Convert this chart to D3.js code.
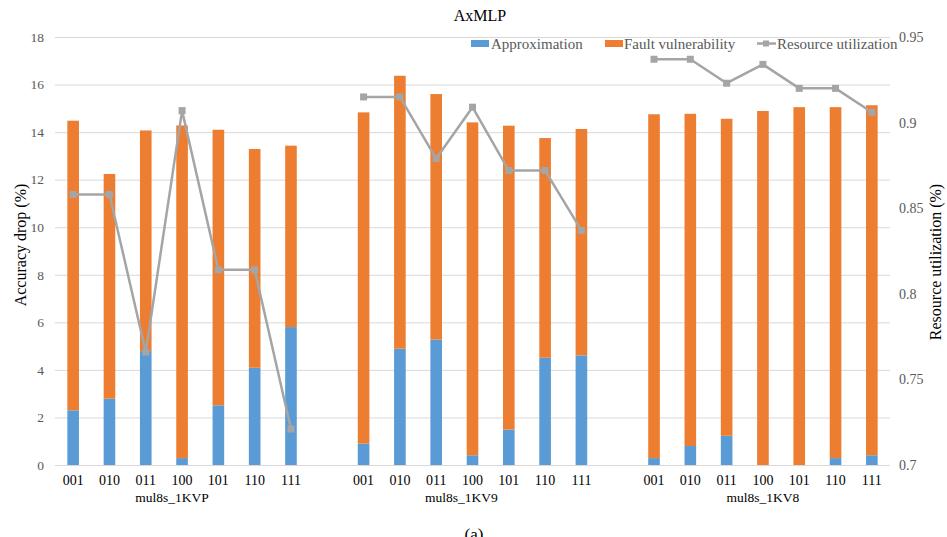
<!DOCTYPE html>
<html><head><meta charset="utf-8">
<script src="https://cdn.jsdelivr.net/npm/d3@7"></script>
<style>body{margin:0;background:#fff}svg{display:block}</style>
</head><body><svg id="c" width="947" height="537"></svg>
<script>
const categories = ["001","010","011","100","101","110","111"];
const groups = ["mul8s_1KVP","mul8s_1KV9","mul8s_1KV8"];
const approximation = [
  [2.3, 2.79, 4.79, 0.29, 2.51, 4.09, 5.8],
  [0.9, 4.89, 5.28, 0.41, 1.49, 4.51, 4.61],
  [0.29, 0.8, 1.23, 0, 0, 0.29, 0.41]
];
const faultVulnerability = [
  [12.18, 9.45, 9.28, 13.99, 11.59, 9.2, 7.63],
  [13.93, 11.48, 10.32, 14.0, 12.78, 9.24, 9.52],
  [14.46, 13.97, 13.33, 14.89, 15.05, 14.76, 14.72]
];
const resourceUtilization = [
  [0.858, 0.858, 0.766, 0.907, 0.814, 0.814, 0.721],
  [0.915, 0.915, 0.879, 0.909, 0.872, 0.872, 0.837],
  [0.937, 0.937, 0.923, 0.934, 0.920, 0.920, 0.906]
];
const leftTicks = [0,2,4,6,8,10,12,14,16,18];
const rightTicks = [0.7,0.75,0.8,0.85,0.9,0.95];
const seriesNames = ["Approximation","Fault vulnerability","Resource utilization"];
const colors = {approx:"#5B9BD5", fault:"#ED7D31", line:"#A5A5A5"};
const FONT = "'Liberation Serif','Times New Roman',serif";

const slots = [];
groups.forEach((g,gi)=>{
  categories.forEach((c,ci)=>slots.push({key:g+"|"+c, g:gi, c:ci}));
  if(gi<groups.length-1) slots.push({key:"gap"+gi, g:-1});
});
const rows = slots.filter(s=>s.g>=0).map(s=>({key:s.key,g:s.g,c:s.c,cat:categories[s.c],
  approx:approximation[s.g][s.c], fault:faultVulnerability[s.g][s.c], res:resourceUtilization[s.g][s.c]}));

const svg = d3.select("#c").attr("font-family",FONT);
const L=55, R=890, T=37, B=465;
const x = d3.scaleBand().domain(slots.map(s=>s.key)).range([L,R]).paddingInner(0.68).paddingOuter(0.34);
const y = d3.scaleLinear().domain([0,18]).range([B,T]);
const y2 = d3.scaleLinear().domain([0.7,0.95]).range([B,T]);

svg.append("g").selectAll("line").data(leftTicks).join("line")
  .attr("x1",L).attr("x2",R).attr("y1",d=>y(d)+0.5).attr("y2",d=>y(d)+0.5)
  .attr("stroke","#D9D9D9").attr("stroke-width",1);

const ga = svg.append("g").attr("transform",`translate(${L-11},0)`)
  .call(d3.axisLeft(y).tickValues(leftTicks).tickSize(0).tickPadding(0).tickFormat(d3.format("d")));
ga.select(".domain").remove();
ga.selectAll("text").attr("font-size",13.5).attr("fill","#595959");

const gb = svg.append("g").attr("transform",`translate(${R+9},0)`)
  .call(d3.axisRight(y2).tickValues(rightTicks).tickSize(0).tickPadding(0).tickFormat(d=>String(+d.toFixed(2))));
gb.select(".domain").remove();
gb.selectAll("text").attr("font-size",14).attr("fill","#595959");

const stack = d3.stack().keys(["approx","fault"])(rows);
const bars = svg.append("g");
stack.forEach(layer=>{
  bars.append("g").attr("fill", layer.key==="approx"?colors.approx:colors.fault)
    .selectAll("rect").data(layer).join("rect")
    .attr("x",d=>x(d.data.key)).attr("width",x.bandwidth())
    .attr("y",d=>y(d[1])).attr("height",d=>y(d[0])-y(d[1]));
});

const line = d3.line().x(d=>x(d.key)+x.bandwidth()/2).y(d=>y2(d.res));
groups.forEach((g,gi)=>{
  const gd = rows.filter(r=>r.g===gi);
  svg.append("path").datum(gd).attr("d",line).attr("fill","none")
    .attr("stroke",colors.line).attr("stroke-width",2.5).attr("stroke-linejoin","round");
  svg.append("g").selectAll("rect").data(gd).join("rect")
    .attr("x",d=>x(d.key)+x.bandwidth()/2-3.5).attr("y",d=>y2(d.res)-3.5)
    .attr("width",7).attr("height",7).attr("fill",colors.line);
});

svg.append("g").selectAll("text").data(rows).join("text")
  .attr("x",d=>x(d.key)+x.bandwidth()/2).attr("y",485).attr("text-anchor","middle")
  .attr("font-size",14).attr("fill","#000").text(d=>d.cat);
const groupLabelShift = [-10,-11,0];
svg.append("g").selectAll("text").data(groups).join("text")
  .attr("x",(d,i)=>{const k=rows.filter(r=>r.g===i);return (x(k[0].key)+x(k[k.length-1].key)+x.bandwidth())/2+groupLabelShift[i];})
  .attr("y",502).attr("text-anchor","middle").attr("font-size",13.5).attr("fill","#000").text(d=>d);

svg.append("text").attr("x",480).attr("y",21).attr("text-anchor","middle").attr("font-size",16).attr("fill","#000").text("AxMLP");
svg.append("text").attr("transform","translate(26,245) rotate(-90)").attr("text-anchor","middle")
  .attr("font-size",16).attr("fill","#000").text("Accuracy drop (%)");
svg.append("text").attr("transform","translate(941,262) rotate(-90)").attr("text-anchor","middle")
  .attr("font-size",16).attr("fill","#000").text("Resource utilization (%)");
svg.append("text").attr("x",474).attr("y",540).attr("text-anchor","middle").attr("font-size",17).attr("fill","#000").text("(a)");

const lg = svg.append("g");
lg.append("rect").attr("x",471).attr("y",40).attr("width",18).attr("height",7).attr("fill",colors.approx);
lg.append("text").attr("x",491).attr("y",49).attr("font-size",15).attr("fill","#595959").text(seriesNames[0]);
lg.append("rect").attr("x",605).attr("y",40).attr("width",18).attr("height",7).attr("fill",colors.fault);
lg.append("text").attr("x",624).attr("y",49).attr("font-size",15).attr("fill","#595959").text(seriesNames[1]);
lg.append("line").attr("x1",757).attr("x2",776).attr("y1",43.5).attr("y2",43.5).attr("stroke",colors.line).attr("stroke-width",2.5);
lg.append("rect").attr("x",763).attr("y",40.5).attr("width",6).attr("height",6).attr("fill",colors.line);
lg.append("text").attr("x",777).attr("y",49).attr("font-size",15).attr("fill","#595959").text(seriesNames[2]);

svg.selectAll("text").attr("font-family",FONT);
</script></body></html>
